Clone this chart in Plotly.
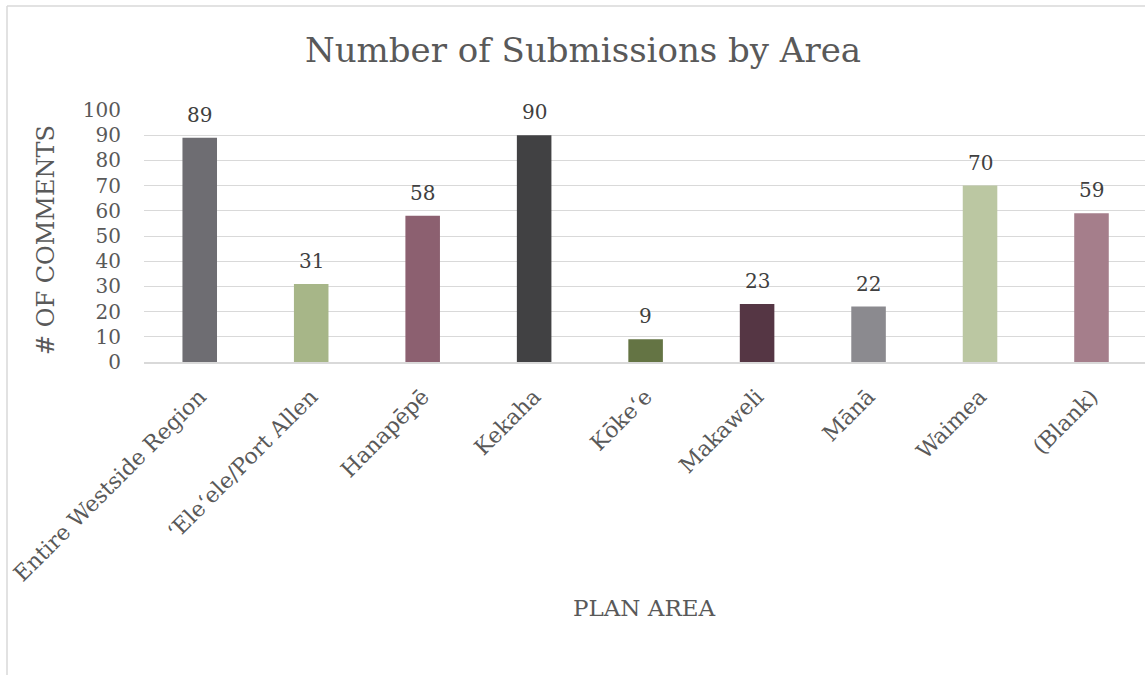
import plotly.graph_objects as go

categories = ["Entire Westside Region", "\u2018Ele\u2018ele/Port Allen", "Hanap\u0113p\u0113", "Kekaha",
              "K\u014dke\u2018e", "Makaweli", "M\u0101n\u0101", "Waimea", "(Blank)"]
values = [89, 31, 58, 90, 9, 23, 22, 70, 59]
colors = ["#6e6d72", "#a7b688", "#8c6070", "#414143", "#647444", "#553644", "#8b8a8f", "#bbc7a2", "#a57e8b"]
y_ticks = [0, 10, 20, 30, 40, 50, 60, 70, 80, 90, 100]

FONT = "DejaVu Serif"
W, H = 1145, 675
L, T, B = 144, 110, 313

fig = go.Figure()
fig.add_trace(go.Bar(x=categories, y=values, marker_color=colors, width=0.31,
                     marker_line_width=0, showlegend=False, hoverinfo="x+y"))

for c, v in zip(categories, values):
    fig.add_annotation(x=c, y=v, text=str(v), showarrow=False, yanchor="bottom",
                       yshift=9, font=dict(family=FONT, size=20, color="#404040"))

plot_w = W - L
plot_h = H - T - B
fig.add_annotation(xref="paper", yref="paper", x=(30 - L) / plot_w, y=(362 - 240) / plot_h,
                   text="# OF COMMENTS", textangle=-90, showarrow=False,
                   font=dict(family=FONT, size=24, color="#595959"))
fig.add_annotation(xref="paper", yref="paper", x=0.5, y=-(608 - 362) / plot_h,
                   text="PLAN AREA", showarrow=False, yanchor="middle",
                   font=dict(family=FONT, size=23, color="#595959"))

# outer frame lines
fig.add_shape(type="line", xref="paper", yref="paper",
              x0=(7 - L) / plot_w, x1=(7 - L) / plot_w,
              y0=(362 - 6) / plot_h, y1=-(H - 362) / plot_h,
              line=dict(color="#d9d9d9", width=1.5))
fig.add_shape(type="line", xref="paper", yref="paper",
              x0=(7 - L) / plot_w, x1=1.01,
              y0=(362 - 6) / plot_h, y1=(362 - 6) / plot_h,
              line=dict(color="#d9d9d9", width=1.5))

fig.update_layout(
    width=W, height=H,
    margin=dict(l=L, r=0, t=T, b=B),
    paper_bgcolor="white", plot_bgcolor="white",
    title=dict(text="Number of Submissions by Area", x=583 / W, xanchor="center",
               y=1 - 50 / H, yanchor="middle", yref="container",
               font=dict(family=FONT, size=34, color="#595959")),
    font=dict(family=FONT, color="#595959"),
    bargap=0.69,
)
fig.update_xaxes(type="category", range=[-0.5, 8.48], tickangle=-45,
                 tickfont=dict(family=FONT, size=22, color="#595959"),
                 showline=True, linecolor="#d9d9d9", linewidth=2,
                 ticks="", ticklabelstandoff=11, showgrid=False)
fig.update_yaxes(range=[0, 100], tickvals=y_ticks, showgrid=True, gridcolor="#d9d9d9",
                 gridwidth=1.2, zeroline=False, ticks="", ticklabelstandoff=22,
                 tickfont=dict(family=FONT, size=20, color="#595959"))

fig.write_html("out.html", config={"displayModeBar": False},
               post_script="document.body.style.margin='0';")
